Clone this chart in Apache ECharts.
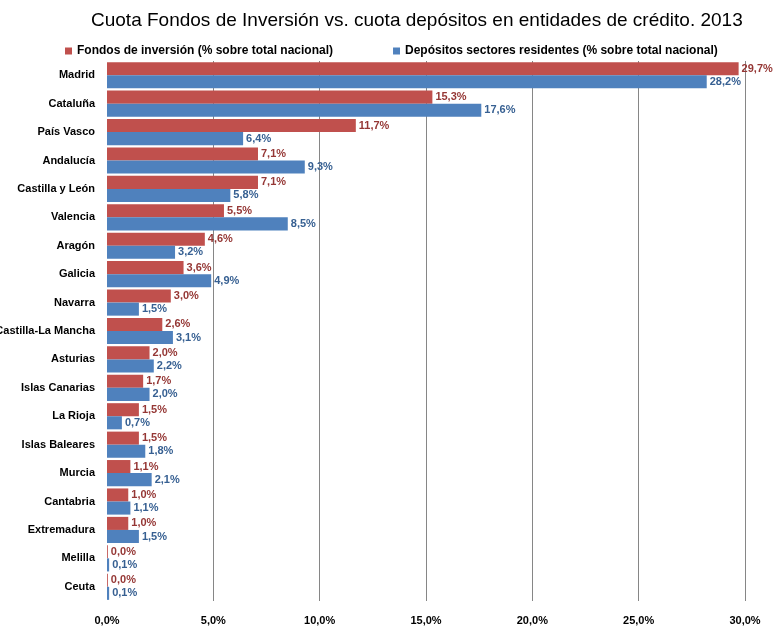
<!DOCTYPE html>
<html><head><meta charset="utf-8">
<script src="https://cdn.jsdelivr.net/npm/echarts@6/dist/echarts.min.js"></script>
<style>html,body{margin:0;padding:0;background:#fff}#c{width:781px;height:635px}</style>
</head><body><div id="c"></div>
<script>
const categories = ["Madrid","Cataluña","País Vasco","Andalucía","Castilla y León","Valencia","Aragón","Galicia","Navarra","Castilla-La Mancha","Asturias","Islas Canarias","La Rioja","Islas Baleares","Murcia","Cantabria","Extremadura","Melilla","Ceuta"];
const fondos = [29.7,15.3,11.7,7.1,7.1,5.5,4.6,3.6,3.0,2.6,2.0,1.7,1.5,1.5,1.1,1.0,1.0,0.04,0.04];
const depositos = [28.2,17.6,6.4,9.3,5.8,8.5,3.2,4.9,1.5,3.1,2.2,2.0,0.7,1.8,2.1,1.1,1.5,0.1,0.1];
const xTicks = [0,5,10,15,20,25,30];
const FONT = '"Liberation Sans Narrow","Arial Narrow","Liberation Sans",sans-serif';
const fmt = v => v.toFixed(1).replace('.', ',') + '%';
const chart = echarts.init(document.getElementById('c'));
chart.setOption({
  animation:false,
  title:{text:'Cuota Fondos de Inversión vs. cuota depósitos en entidades de crédito. 2013',left:86,top:6,
    textStyle:{fontFamily:FONT,fontSize:19,fontWeight:'normal',color:'#000'}},
  legend:{top:40,left:60,itemGap:60,itemWidth:7,itemHeight:7,icon:'rect',
    textStyle:{fontFamily:FONT,fontSize:12,fontWeight:'bold',color:'#000'},
    data:['Fondos de inversión (% sobre total nacional)','Depósitos sectores residentes (% sobre total nacional)']},
  grid:{left:107,right:36,top:61,bottom:34,outerBoundsMode:'none',containLabel:false},
  xAxis:{type:'value',min:xTicks[0],max:xTicks[xTicks.length-1],interval:5,
    axisLine:{show:false},axisTick:{show:false},
    splitLine:{show:true,lineStyle:{color:['rgba(0,0,0,0)','#868686','#868686','#868686','#868686','#868686','#868686'],width:1}},
    axisLabel:{formatter:v=>fmt(v),fontFamily:FONT,fontSize:11,fontWeight:'bold',color:'#000',margin:14}},
  yAxis:{type:'category',data:categories,inverse:true,
    axisLine:{show:false},axisTick:{show:false},
    axisLabel:{fontFamily:FONT,fontSize:11,fontWeight:'bold',color:'#000',margin:12}},
  series:[
    {name:'Fondos de inversión (% sobre total nacional)',type:'bar',data:fondos,barGap:'0%',barCategoryGap:'8%',
     itemStyle:{color:'#C0504D'},
     label:{show:true,position:'right',distance:3,formatter:p=>fmt(p.value),fontFamily:FONT,fontSize:11,fontWeight:'bold',color:'#953735'}},
    {name:'Depósitos sectores residentes (% sobre total nacional)',type:'bar',data:depositos,
     itemStyle:{color:'#4F81BD'},
     label:{show:true,position:'right',distance:3,formatter:p=>fmt(p.value),fontFamily:FONT,fontSize:11,fontWeight:'bold',color:'#376092'}}
  ]
});
</script></body></html>
